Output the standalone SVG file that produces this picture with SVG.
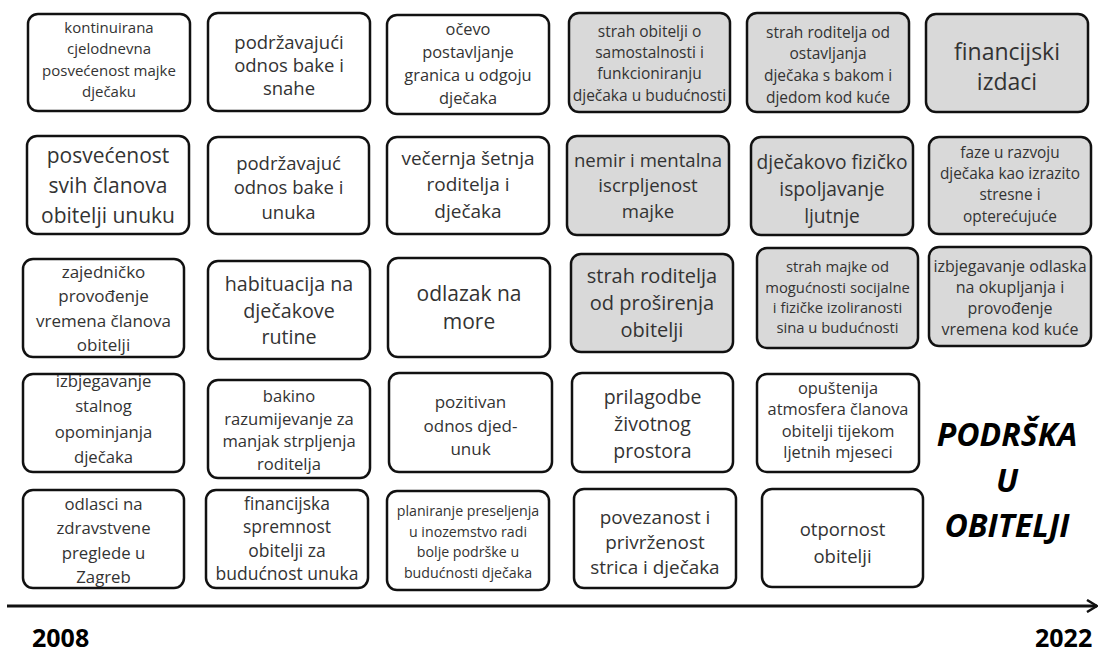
<svg xmlns="http://www.w3.org/2000/svg" width="1099" height="654" viewBox="0 0 1099 654">
<style>
.box{fill:#fff;stroke:#111;stroke-width:2.5}
.g .box{fill:#d9d9d9}
text{font-family:"Open Sans","Noto Sans","DejaVu Sans",sans-serif;fill:#333;text-anchor:middle}
.title{font-weight:bold;font-style:italic;fill:#000;font-size:32px}
.year{font-weight:bold;fill:#000;font-size:25px;text-anchor:start}
</style>
<defs>
<marker id="arr" viewBox="0 0 12 14" refX="11" refY="7" markerWidth="12" markerHeight="14" markerUnits="userSpaceOnUse" orient="auto">
<path d="M1,1 L11,7 L1,13" fill="none" stroke="#111" stroke-width="2.5"/>
</marker>
</defs>
<rect width="1099" height="654" fill="#fff"/>

<g id="r1c1"><rect class="box" x="28" y="14" width="162" height="97" rx="10"/>
<text font-size="15"><tspan x="109" y="32.5">kontinuirana</tspan><tspan x="109" y="54">cjelodnevna</tspan><tspan x="109" y="75.5">posvećenost majke</tspan><tspan x="109" y="97">dječaku</tspan></text></g>
<g id="r1c2"><rect class="box" x="208" y="13" width="162" height="98" rx="10"/>
<text font-size="18.5"><tspan x="289" y="48.5">podržavajući</tspan><tspan x="289" y="71.5">odnos bake i</tspan><tspan x="289" y="94.5">snahe</tspan></text></g>
<g id="r1c3"><rect class="box" x="387" y="15" width="162" height="99" rx="10"/>
<text font-size="16.4"><tspan x="468" y="35">očevo</tspan><tspan x="468" y="58">postavljanje</tspan><tspan x="468" y="81">granica u odgoju</tspan><tspan x="468" y="104">dječaka</tspan></text></g>
<g id="r1c4" class="g"><rect class="box" x="569" y="13" width="161" height="99" rx="10"/>
<text font-size="15.5"><tspan x="649.5" y="36.7">strah obitelji o</tspan><tspan x="649.5" y="58">samostalnosti i</tspan><tspan x="649.5" y="79.3">funkcioniranju</tspan><tspan x="649.5" y="100.6">dječaka u budućnosti</tspan></text></g>
<g id="r1c5" class="g"><rect class="box" x="747" y="13" width="162" height="99" rx="10"/>
<text font-size="15.5"><tspan x="828" y="37.7">strah roditelja od</tspan><tspan x="828" y="59.4">ostavljanja</tspan><tspan x="828" y="81.1">dječaka s bakom i</tspan><tspan x="828" y="102.8">djedom kod kuće</tspan></text></g>
<g id="r1c6" class="g"><rect class="box" x="926" y="14" width="162" height="98" rx="10"/>
<text font-size="23"><tspan x="1007" y="60">financijski</tspan><tspan x="1007" y="90">izdaci</tspan></text></g>

<g id="r2c1"><rect class="box" x="27" y="136" width="162" height="98" rx="10"/>
<text font-size="21"><tspan x="108" y="163.3">posvećenost</tspan><tspan x="108" y="193.3">svih članova</tspan><tspan x="108" y="223.3">obitelji unuku</tspan></text></g>
<g id="r2c2"><rect class="box" x="208" y="137" width="161" height="97" rx="10"/>
<text font-size="18.5"><tspan x="288.5" y="169.5">podržavajuć</tspan><tspan x="288.5" y="194">odnos bake i</tspan><tspan x="288.5" y="218.5">unuka</tspan></text></g>
<g id="r2c3"><rect class="box" x="387" y="137" width="162" height="97" rx="10"/>
<text font-size="19"><tspan x="468" y="164.7">večernja šetnja</tspan><tspan x="468" y="191.2">roditelja i</tspan><tspan x="468" y="217.7">dječaka</tspan></text></g>
<g id="r2c4" class="g"><rect class="box" x="567" y="136" width="162" height="99" rx="10"/>
<text font-size="18.6"><tspan x="648" y="166.6">nemir i mentalna</tspan><tspan x="648" y="192.1">iscrpljenost</tspan><tspan x="648" y="217.6">majke</tspan></text></g>
<g id="r2c5" class="g"><rect class="box" x="751" y="137" width="162" height="98" rx="10"/>
<text font-size="19.2"><tspan x="832" y="168.8">dječakovo fizičko</tspan><tspan x="832" y="195.8">ispoljavanje</tspan><tspan x="832" y="222.8">ljutnje</tspan></text></g>
<g id="r2c6" class="g"><rect class="box" x="929" y="137" width="162" height="97" rx="10"/>
<text font-size="15.4"><tspan x="1010" y="157.6">faze u razvoju</tspan><tspan x="1010" y="178.9">dječaka kao izrazito</tspan><tspan x="1010" y="200.2">stresne i</tspan><tspan x="1010" y="221.5">opterećujuće</tspan></text></g>

<g id="r3c1"><rect class="box" x="23" y="259" width="161" height="98" rx="10"/>
<text font-size="17"><tspan x="103.5" y="278">zajedničko</tspan><tspan x="103.5" y="302.3">provođenje</tspan><tspan x="103.5" y="326.6">vremena članova</tspan><tspan x="103.5" y="350.9">obitelji</tspan></text></g>
<g id="r3c2"><rect class="box" x="208" y="261" width="162" height="98" rx="10"/>
<text font-size="19.7"><tspan x="289" y="291">habituacija na</tspan><tspan x="289" y="317.5">dječakove</tspan><tspan x="289" y="344">rutine</tspan></text></g>
<g id="r3c3"><rect class="box" x="388" y="258" width="162" height="99" rx="10"/>
<text font-size="21"><tspan x="469" y="301.3">odlazak na</tspan><tspan x="469" y="329.3">more</tspan></text></g>
<g id="r3c4" class="g"><rect class="box" x="571" y="254" width="162" height="98" rx="10"/>
<text font-size="20"><tspan x="652" y="283">strah roditelja</tspan><tspan x="652" y="310">od proširenja</tspan><tspan x="652" y="337">obitelji</tspan></text></g>
<g id="r3c5" class="g"><rect class="box" x="757" y="248" width="161" height="100" rx="10"/>
<text font-size="14.8"><tspan x="837.5" y="272.4">strah majke od</tspan><tspan x="837.5" y="292.7">mogućnosti socijalne</tspan><tspan x="837.5" y="313">i fizičke izoliranosti</tspan><tspan x="837.5" y="333.3">sina u budućnosti</tspan></text></g>
<g id="r3c6" class="g"><rect class="box" x="929" y="247" width="162" height="99" rx="10"/>
<text font-size="16"><tspan x="1010" y="271.8">izbjegavanje odlaska</tspan><tspan x="1010" y="292.8">na okupljanja i</tspan><tspan x="1010" y="313.8">provođenje</tspan><tspan x="1010" y="334.8">vremena kod kuće</tspan></text></g>

<g id="r4c1"><rect class="box" x="23" y="374" width="161" height="98" rx="10"/>
<text font-size="16.7"><tspan x="103.5" y="387">izbjegavanje</tspan><tspan x="103.5" y="412.3">stalnog</tspan><tspan x="103.5" y="437.6">opominjanja</tspan><tspan x="103.5" y="462.9">dječaka</tspan></text></g>
<g id="r4c2"><rect class="box" x="208" y="380" width="162" height="98" rx="10"/>
<text font-size="16.6"><tspan x="289" y="402">bakino</tspan><tspan x="289" y="424.7">razumijevanje za</tspan><tspan x="289" y="447.4">manjak strpljenja</tspan><tspan x="289" y="470.1">roditelja</tspan></text></g>
<g id="r4c3"><rect class="box" x="389" y="373" width="163" height="99" rx="10"/>
<text font-size="17"><tspan x="470.5" y="408">pozitivan</tspan><tspan x="470.5" y="431.5">odnos djed-</tspan><tspan x="470.5" y="455">unuk</tspan></text></g>
<g id="r4c4"><rect class="box" x="572" y="373" width="161" height="99" rx="10"/>
<text font-size="19.5"><tspan x="652.5" y="404">prilagodbe</tspan><tspan x="652.5" y="431">životnog</tspan><tspan x="652.5" y="458">prostora</tspan></text></g>
<g id="r4c5"><rect class="box" x="757" y="374" width="162" height="98" rx="10"/>
<text font-size="16.4"><tspan x="838" y="394">opuštenija</tspan><tspan x="838" y="415.3">atmosfera članova</tspan><tspan x="838" y="436.6">obitelji tijekom</tspan><tspan x="838" y="457.9">ljetnih mjeseci</tspan></text></g>

<g id="r5c1"><rect class="box" x="23" y="490" width="161" height="98" rx="10"/>
<text font-size="16.8"><tspan x="103.5" y="510">odlasci na</tspan><tspan x="103.5" y="534.3">zdravstvene</tspan><tspan x="103.5" y="558.6">preglede u</tspan><tspan x="103.5" y="582.9">Zagreb</tspan></text></g>
<g id="r5c2"><rect class="box" x="206" y="490" width="162" height="98" rx="10"/>
<text font-size="17.5"><tspan x="287" y="510">financijska</tspan><tspan x="287" y="533.3">spremnost</tspan><tspan x="287" y="556.6">obitelji za</tspan><tspan x="287" y="579.9">budućnost unuka</tspan></text></g>
<g id="r5c3"><rect class="box" x="387" y="491" width="162" height="99" rx="10"/>
<text font-size="14.2"><tspan x="468" y="516">planiranje preseljenja</tspan><tspan x="468" y="536.7">u inozemstvo radi</tspan><tspan x="468" y="557.4">bolje podrške u</tspan><tspan x="468" y="578.1">budućnosti dječaka</tspan></text></g>
<g id="r5c4"><rect class="box" x="574" y="489" width="162" height="99" rx="10"/>
<text font-size="18.9"><tspan x="655" y="523.7">povezanost i</tspan><tspan x="655" y="548.7">privrženost</tspan><tspan x="655" y="573.7">strica i dječaka</tspan></text></g>
<g id="r5c5"><rect class="box" x="762" y="489" width="161" height="98" rx="10"/>
<text font-size="18.5"><tspan x="842.5" y="535.5">otpornost</tspan><tspan x="842.5" y="562.5">obitelji</tspan></text></g>

<g id="title"><text class="title"><tspan x="1007" y="446">PODRŠKA</tspan><tspan x="1007" y="492">U</tspan><tspan x="1007" y="537">OBITELJI</tspan></text></g>

<g id="connectors">
<line x1="7" y1="606" x2="1097" y2="606" stroke="#111" stroke-width="3" marker-end="url(#arr)"/>
</g>
<g id="years">
<text class="year" x="32" y="647">2008</text>
<text class="year" x="1035" y="647">2022</text>
</g>
</svg>
